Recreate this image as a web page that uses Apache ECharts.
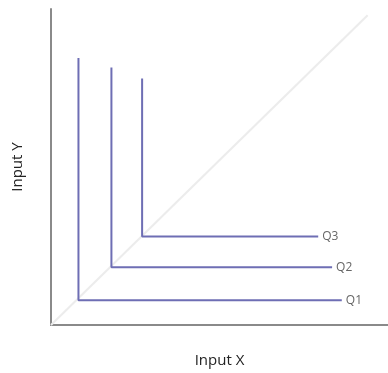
<!DOCTYPE html>
<html>
<head>
<meta charset="utf-8">
<script src="https://cdn.jsdelivr.net/npm/echarts@6/dist/echarts.min.js"></script>
<style>
  html, body { margin: 0; padding: 0; background: #fff; }
  #chart { width: 388px; height: 373px; }
</style>
</head>
<body>
<div id="chart"></div>
<script>
// Leontief (perfect-complement) isoquants: each curve is an L with its kink on the ray
const isoquantNames = ['Q1', 'Q2', 'Q3'];
const q1Points = [[0.85, 8.45], [0.85, 0.78], [9.0, 0.78]];
const q2Points = [[1.87, 8.15], [1.87, 1.83], [8.7, 1.83]];
const q3Points = [[2.82, 7.8], [2.82, 2.8], [8.27, 2.8]];
const rayPoints = [[0, 0], [9.8, 9.8]];
const xAxisTitle = 'Input X';
const yAxisTitle = 'Input Y';

const lineColor = '#6e6eb4';
const fontFamily = '"Open Sans", "DejaVu Sans", sans-serif';

function isoquant(name, data) {
  return {
    name: name,
    type: 'line',
    data: data,
    symbol: 'none',
    silent: true,
    lineStyle: { color: lineColor, width: 2 },
    endLabel: {
      show: true,
      formatter: '{a}',
      color: '#666',
      fontFamily: fontFamily,
      fontSize: 12,
      distance: 4
    }
  };
}

const chart = echarts.init(document.getElementById('chart'));
chart.setOption({
  animation: false,
  backgroundColor: '#fff',
  grid: { left: 51, right: 0, top: 9, bottom: 41 },
  xAxis: {
    type: 'value', min: 0, max: 10.43,
    name: xAxisTitle, nameLocation: 'middle', nameGap: 28,
    nameTextStyle: { color: '#222', fontFamily: fontFamily, fontSize: 15 },
    axisLine: { show: true, lineStyle: { color: '#8a8a8a', width: 2 } },
    axisTick: { show: false }, axisLabel: { show: false }, splitLine: { show: false }
  },
  yAxis: {
    type: 'value', min: 0, max: 10,
    name: yAxisTitle, nameLocation: 'middle', nameGap: 26,
    nameTextStyle: { color: '#222', fontFamily: fontFamily, fontSize: 15 },
    axisLine: { show: true, lineStyle: { color: '#8a8a8a', width: 2 } },
    axisTick: { show: false }, axisLabel: { show: false }, splitLine: { show: false }
  },
  series: [
    {
      name: 'ray',
      type: 'line',
      data: rayPoints,
      symbol: 'none',
      silent: true,
      lineStyle: { color: '#ececec', width: 2 }
    },
    isoquant(isoquantNames[0], q1Points),
    isoquant(isoquantNames[1], q2Points),
    isoquant(isoquantNames[2], q3Points)
  ]
});
</script>
</body>
</html>
